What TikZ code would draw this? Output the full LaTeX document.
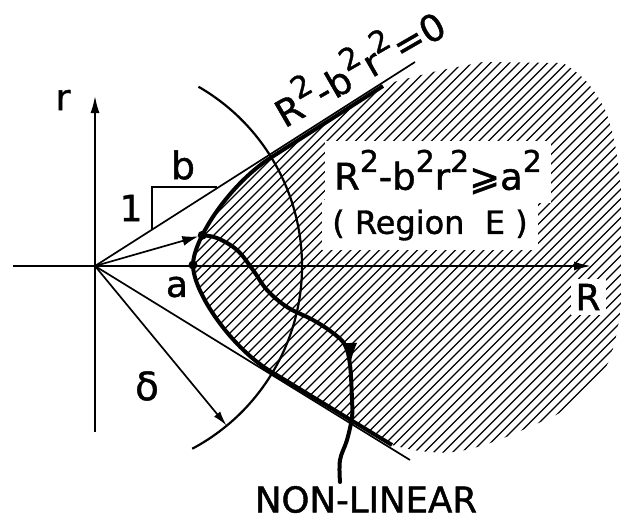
\documentclass[tikz,border=0pt]{standalone}
\usepackage{fontspec}
\setmainfont{DejaVu Sans}[BoldFont={DejaVu Sans}, BoldFeatures={FakeBold=1.2}]
\usetikzlibrary{arrows.meta}
\newcommand\supt{\raisebox{0.48em}{\fontsize{30}{30}\selectfont 2}}
\begin{document}
\begin{tikzpicture}[x=1pt,y=-1pt,
  thinline/.style={line width=1.7pt},
  arcline/.style={line width=2.2pt},
  boldline/.style={line width=4pt},
  hatchline/.style={line width=1.2pt},
  lbl/.style={font=\fontsize{36}{36}\selectfont\bfseries, inner sep=0pt},
  big/.style={font=\fontsize{37}{37}\selectfont\bfseries, inner sep=0pt},
  whitebox/.style={fill=white},
  dot/.style={circle, fill=black, inner sep=0pt, minimum size=9pt},
  axistip/.style={-{Latex[length=17pt,width=9pt]}}]
\useasboundingbox (0,0) rectangle (621,517);

% key points
\coordinate (O) at (95,266);
\coordinate (Lstart) at (13,266);
\coordinate (Rend) at (591,266);
\coordinate (rtop) at (95,96);
\coordinate (rbot) at (95,432);
\coordinate (asU) at (415,62);
\coordinate (asL) at (410,460);
\coordinate (triA) at (152,229);
\coordinate (triB) at (152,187);
\coordinate (triC) at (217,187);
\coordinate (D) at (226.7,425.7);
\coordinate (NLmid) at (350,365);
\coordinate (NLend) at (340,482);

\def\hyp{(383,86) -- (275,155) .. controls (230,182) and (193,240) .. (193,265) .. controls (193,292) and (232,350) .. (275,374) -- (392,445)}

% point on hyperbola where the non-linear path starts
\path (275,155) .. controls (230,182) and (193,240) .. (193,265) coordinate[pos=0.7] (P);

% hatching of region E
\begin{scope}
  \clip \hyp -- plot[smooth, tension=0.6] coordinates {(392,445) (420,451) (453,452) (487,444) (527,428) (567,408) (603,372) (617,332) (622,290)}
     -- (622,200) -- plot[smooth, tension=0.6] coordinates {(622,200) (616,150) (605,110) (585,80) (563,63)}
     -- (483,62) -- (437,71) -- (390,83) -- cycle;
  \foreach \c in {-280,-270.5,...,570} \draw[hatchline] (\c,520) -- ++(520,-520);
\end{scope}

% labels inside the hatching
\node[big, whitebox, inner sep=9pt] (regF) at (438,172) {R\supt-b\supt r\supt⩾a\supt};
\node[big, whitebox, inner sep=10pt, font=\fontsize{32}{32}\selectfont\bfseries] (regE) at (430,225) {( Region~~E )};
\node[lbl, whitebox, inner sep=5pt] (Rl) at (588,297) {R};

% axes
\draw[thinline, axistip] (Lstart) -- (Rend);
\draw[thinline, axistip] (rbot) -- (rtop);

% asymptotes
\draw[thinline] (O) -- (asU);
\draw[thinline] (O) -- (asL);

% slope triangle
\draw[thinline] (triA) -- (triB) -- (triC);

% circle arc and radius arrow
\draw[arcline] (O) ++(-60:207) arc[start angle=-60, end angle=62, radius=207];
\draw[thinline, -{Latex[length=15pt,width=8pt]}] (O) -- (D);

% hyperbola boundary
\draw[boldline, line join=round] \hyp;

% dots
\node[dot] (Pd) at (P) {};
\node[dot] (Vd) at (193,265) {};

% arrow from origin to the dot
\draw[thinline, -{Latex[length=16pt,width=10pt]}, shorten >=4pt] (O) -- (Pd.center);

% non-linear path
\draw[boldline, line cap=round]
  plot[smooth, tension=0.6] coordinates {(P) (217,238) (237,250) (253,270) (267,290) (287,307) (313,320) (333,333) (345,345) (NLmid) (352,400) (352,417) (347,440) (340,460) (NLend)};
\draw[line width=1pt, -{Latex[length=22pt,width=15pt]}] (349.6,343) -- (NLmid);

% labels
\node[lbl] (rl) at (63,100) {r};
\node[lbl, font=\fontsize{38}{38}\selectfont\bfseries] (bl) at (183,165) {b};
\node[lbl] (onel) at (131,208) {1};
\node[lbl] (al) at (177,287) {a};
\node[lbl, font=\fontsize{39}{39}\selectfont\bfseries] (dl) at (147,386) {δ};
\node[big, rotate=30] (asl) at (357,64) {R\supt-b\supt r\supt=0};
\node[lbl, font=\fontsize{35.5}{35.5}\selectfont\bfseries] (NL) at (366,499.5) {NON-LINEAR};
\end{tikzpicture}
\end{document}
